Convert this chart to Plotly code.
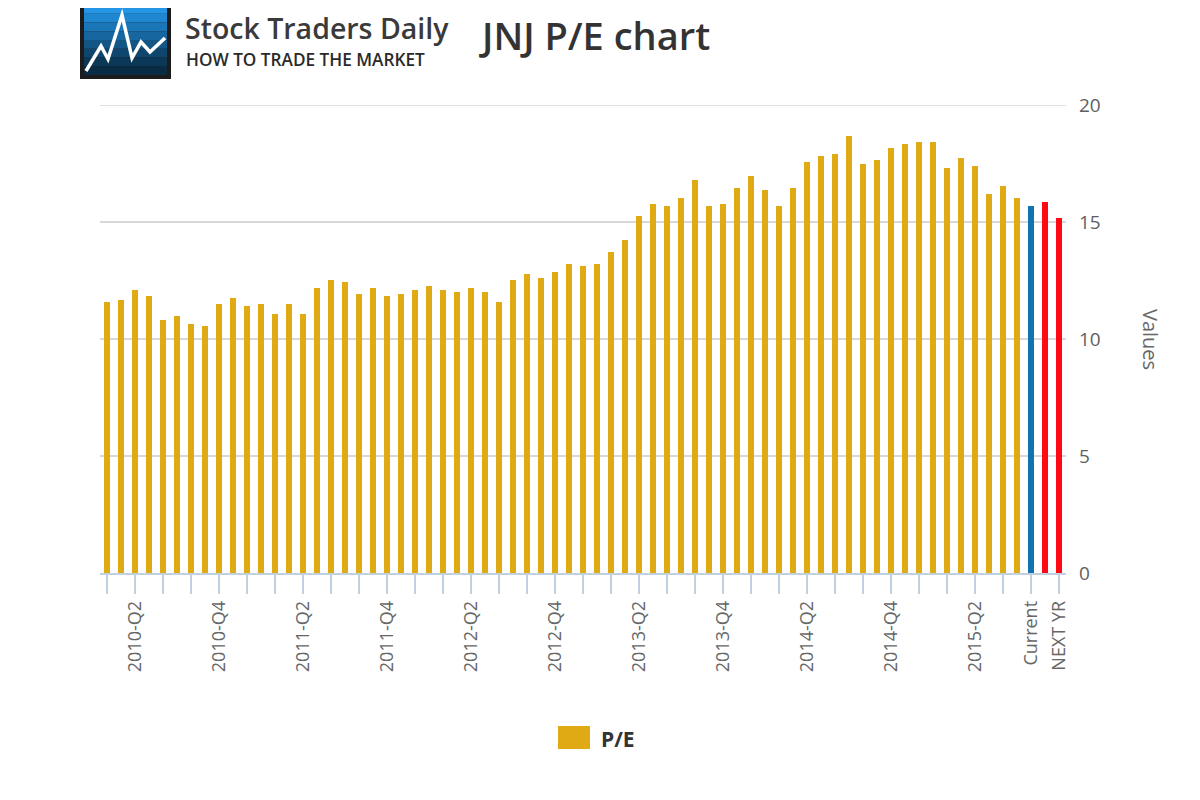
import plotly.graph_objects as go

# ---------------- data ----------------
quarters = ["2010-Q2", "2010-Q3", "2010-Q4", "2011-Q1", "2011-Q2", "2011-Q3",
            "2011-Q4", "2012-Q1", "2012-Q2", "2012-Q3", "2012-Q4", "2013-Q1",
            "2013-Q2", "2013-Q3", "2013-Q4", "2014-Q1", "2014-Q2", "2014-Q3",
            "2014-Q4", "2015-Q1", "2015-Q2", "2015-Q3"]
# three P/E readings per quarter
pe_history = [11.58, 11.67, 12.09, 11.84, 10.81, 10.98,
              10.64, 10.56, 11.50, 11.75, 11.41, 11.50,
              11.07, 11.50, 11.07, 12.18, 12.52, 12.44,
              11.92, 12.18, 11.84, 11.92, 12.09, 12.26,
              12.09, 12.01, 12.18, 12.01, 11.58, 12.52,
              12.78, 12.61, 12.86, 13.20, 13.12, 13.20,
              13.72, 14.23, 15.26, 15.77, 15.68, 16.03,
              16.79, 15.68, 15.77, 16.45, 16.97, 16.37,
              15.68, 16.45, 17.56, 17.82, 17.91, 18.68,
              17.48, 17.65, 18.16, 18.33, 18.42, 18.42,
              17.31, 17.74, 17.39, 16.20, 16.54, 16.03]
extra_labels = ["Current", "NEXT QTR", "NEXT YR"]
extra_values = [15.68, 15.85, 15.17]

COL_HIST = "#E0AA14"
COL_CUR = "#1174B0"
COL_FC = "#FF0A14"

# ------------- build ------------------
hist_cats = [q for q in quarters for _ in range(3)]
n_hist = len(pe_history)
values = pe_history + extra_values
xs = list(range(len(values)))
colors = [COL_HIST] * n_hist + [COL_CUR] + [COL_FC] * (len(extra_values) - 1)
hover_names = [f"{hist_cats[i]}" for i in range(n_hist)] + extra_labels

tickvals = xs[::2]
ticktext = []
for i in tickvals:
    if i < n_hist:
        ticktext.append(hist_cats[i] if i % 6 == 2 else "")
    elif i == n_hist:
        ticktext.append(extra_labels[0])
    elif i == len(values) - 1:
        ticktext.append(extra_labels[-1])
    else:
        ticktext.append("")

fig = go.Figure()
fig.add_trace(go.Bar(
    x=xs, y=values, marker=dict(color=colors, line=dict(width=0)),
    name="P/E", customdata=hover_names,
    hovertemplate="%{customdata}: %{y}<extra></extra>",
    showlegend=False,
))

OFF = 8  # page body margin
W, H = 1200 - OFF, 800 - OFF
# plot area in page pixels
PL, PR, PT, PB = 100, 1066, 105, 573
L, R, T, B = PL - OFF, PR - OFF, PT - OFF, PB - OFF


def px(x):
    return (x - PL) / (PR - PL)


def py(y):
    return (PB - y) / (PB - PT)


shapes = []
# top gridline at 20
shapes.append(dict(type="line", xref="paper", yref="y", x0=0, x1=1, y0=20, y1=20,
                   line=dict(color="#D8D8D8", width=1.5), layer="below"))
# logo: dark frame + blue gradient bands + white zigzag
shapes.append(dict(type="rect", xref="paper", yref="paper",
                   x0=px(80), x1=px(171), y0=py(79), y1=py(1),
                   fillcolor="#1c1c1c", line=dict(width=0), layer="above"))
blues = ["#2596e6", "#1f86d0", "#1b76b8", "#17669f", "#135686", "#0f466e", "#0c3858", "#0a2b44"]
top, bot = 5, 75
band = (bot - top) / len(blues)
for k, c in enumerate(blues):
    shapes.append(dict(type="rect", xref="paper", yref="paper",
                       x0=px(84), x1=px(167),
                       y0=py(top + (k + 1) * band), y1=py(top + k * band),
                       fillcolor=c, line=dict(width=0), layer="above"))
zig = [(86, 71), (101, 46), (108, 59), (122, 15), (132, 58), (141, 42), (150, 52), (165, 38)]
path = "M " + " L ".join(f"{px(a):.5f},{py(b):.5f}" for a, b in zig)
shapes.append(dict(type="path", xref="paper", yref="paper", path=path,
                   line=dict(color="#ffffff", width=3.5), layer="above"))
# legend swatch
shapes.append(dict(type="rect", xref="paper", yref="paper",
                   x0=px(558), x1=px(590), y0=py(749), y1=py(726),
                   fillcolor=COL_HIST, line=dict(width=0)))

annotations = [
    dict(text="Stock Traders Daily", xref="paper", yref="paper",
         x=px(183), y=py(28.5), xanchor="left", yanchor="middle", showarrow=False,
         font=dict(family="Open Sans", size=28.5, color="#3a3a3a", weight=600)),
    dict(text="HOW TO TRADE THE MARKET", xref="paper", yref="paper",
         x=px(184), y=py(59.5), xanchor="left", yanchor="middle", showarrow=False,
         font=dict(family="Open Sans", size=17.2, color="#2a2a2a", weight=600)),
    dict(text="JNJ P/E chart", xref="paper", yref="paper",
         x=px(477), y=py(35), xanchor="left", yanchor="middle", showarrow=False,
         font=dict(family="Open Sans", size=38, color="#333333", weight=600)),
    dict(text="Values", xref="paper", yref="paper",
         x=px(1151), y=py(339), xanchor="center", yanchor="middle", showarrow=False,
         textangle=90, font=dict(family="Open Sans", size=20, color="#666666")),
    dict(text="<b>P/E</b>", xref="paper", yref="paper",
         x=px(599), y=py(739), xanchor="left", yanchor="middle", showarrow=False,
         font=dict(family="Open Sans", size=21, color="#333333")),
]

fig.update_layout(
    width=W, height=H,
    margin=dict(l=L, r=W - R, t=T, b=H - B, pad=0),
    paper_bgcolor="#ffffff", plot_bgcolor="#ffffff",
    bargap=0.57,
    shapes=shapes, annotations=annotations,
    font=dict(family="Open Sans", color="#666666"),
    xaxis=dict(range=[-0.5, len(values) - 0.5], tickmode="array",
               tickvals=tickvals, ticktext=ticktext, tickangle=-90,
               ticks="outside", ticklen=19, tickwidth=1.5, tickcolor="#C0D0E0",
               showline=True, linecolor="#C0D0E0", linewidth=1.5,
               showgrid=False, zeroline=False,
               tickfont=dict(family="Open Sans", size=18, color="#666666")),
    yaxis=dict(range=[0, 20], dtick=5, side="right", showgrid=True,
               gridcolor="#D8D8D8", gridwidth=1.5, zeroline=False,
               showline=False, ticks="", ticklabelstandoff=12,
               tickfont=dict(family="Open Sans", size=19, color="#606060")),
)

fig.write_html("out.html")
